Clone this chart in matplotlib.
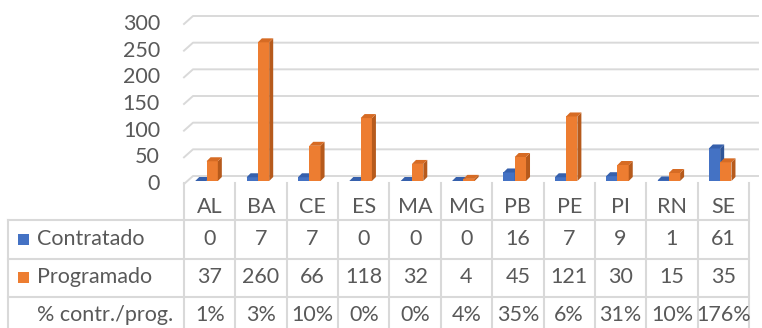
import matplotlib.pyplot as plt
from matplotlib.patches import Polygon, Rectangle

plt.rcParams['font.family'] = ['Lato', 'DejaVu Sans']

# data table values
states = ['AL', 'BA', 'CE', 'ES', 'MA', 'MG', 'PB', 'PE', 'PI', 'RN', 'SE']
contratado = [0, 7, 7, 0, 0, 0, 16, 7, 9, 1, 61]
programado = [37, 260, 66, 118, 32, 4, 45, 121, 30, 15, 35]
pct_labels = ['1%', '3%', '10%', '0%', '0%', '4%', '35%', '6%', '31%', '10%', '176%']
row_labels = ['Contratado', 'Programado', '% contr./prog.']
yticks = [0, 50, 100, 150, 200, 250, 300]

# front, side, top colours of the 3-D columns
blue = ('#4472C4', '#2F5597', '#3660AC')
orange = ('#ED7D31', '#B65A1C', '#D66B24')
grid_c = '#D9D9D9'
text_c = '#595959'
fs = 15.5

W, H = 762, 328
fig = plt.figure(figsize=(W / 100, H / 100), dpi=100)

# chart geometry in pixels (front plane)
left, right = 184, 749
y_zero, y_top = 184, 24
ax = fig.add_axes([left / W, 1 - y_zero / H, (right - left) / W, (y_zero - y_top) / H])
n = len(states)
ax.set_xlim(-0.5, n - 0.5)
ax.set_ylim(0, 300)
ax.axis('off')

px_x = (right - left) / n
px_y = (y_zero - y_top) / 300


def ux(px):
    return px / px_x


def uy(px):
    return px / px_y


# back wall gridlines with the perspective stub on the left
wall_dx, wall_dy = ux(9), uy(8)
for t in yticks:
    ax.plot([-0.5, -0.5 + wall_dx, n - 0.5 + wall_dx], [t, t + wall_dy, t + wall_dy],
            color=grid_c, lw=1.4, clip_on=False, zorder=1)
    ax.text(-0.5 - ux(24), t, str(t), ha='right', va='center', fontsize=fs, color=text_c)

# 3-D columns
bar_w = ux(11.3)
base = uy(3)
depth_x, depth_y = ux(4), uy(4)


def column(x, v, colors):
    front, side, top = colors
    x0, x1 = x - bar_w / 2, x + bar_w / 2
    y1 = base + v
    ax.bar(x, v, width=bar_w, bottom=base, color=front, zorder=3, clip_on=False)
    ax.add_patch(Polygon([(x1, base), (x1 + depth_x, base + depth_y),
                          (x1 + depth_x, y1 + depth_y), (x1, y1)],
                         closed=True, facecolor=side, edgecolor='none', zorder=3, clip_on=False))
    ax.add_patch(Polygon([(x0, y1), (x1, y1), (x1 + depth_x, y1 + depth_y),
                          (x0 + depth_x, y1 + depth_y)],
                         closed=True, facecolor=top, edgecolor='none', zorder=3, clip_on=False))


for i in range(n):
    column(i - ux(8.8), contratado[i], blue)
    column(i + ux(2.5), programado[i], orange)

# data table below the chart, in pixel coordinates
tab = fig.add_axes([0, 0, 1, 1], zorder=-1)
tab.set_xlim(0, W)
tab.set_ylim(H, 0)
tab.axis('off')

row_lines = [220, 259, 297]
row_centers = [239, 277, 315]
label_left = 8
for k in range(n + 1):
    xk = left + k * px_x
    tab.plot([xk, xk], [y_zero - 1, H + 10], color=grid_c, lw=1.5)
tab.plot([label_left, label_left], [row_lines[0], H + 10], color=grid_c, lw=1.5)
for yl in row_lines:
    tab.plot([label_left, right], [yl, yl], color=grid_c, lw=1.5)

for k, s in enumerate(states):
    xc = left + (k + 0.5) * px_x
    tab.text(xc, 207, s, ha='center', va='center', fontsize=fs, color=text_c)
    tab.text(xc, row_centers[0], str(contratado[k]), ha='center', va='center', fontsize=fs, color=text_c)
    tab.text(xc, row_centers[1], str(programado[k]), ha='center', va='center', fontsize=fs, color=text_c)
    tab.text(xc, row_centers[2], pct_labels[k], ha='center', va='center', fontsize=fs, color=text_c)

for r, lab in enumerate(row_labels):
    if r < 2:
        key = (blue, orange)[r][0]
        tab.add_patch(Rectangle((17.5, row_centers[r] - 5.5), 11, 11, facecolor=key, edgecolor='none'))
    tab.text(37, row_centers[r], lab, ha='left', va='center', fontsize=fs, color=text_c)

fig.savefig('out.png', dpi=100)
